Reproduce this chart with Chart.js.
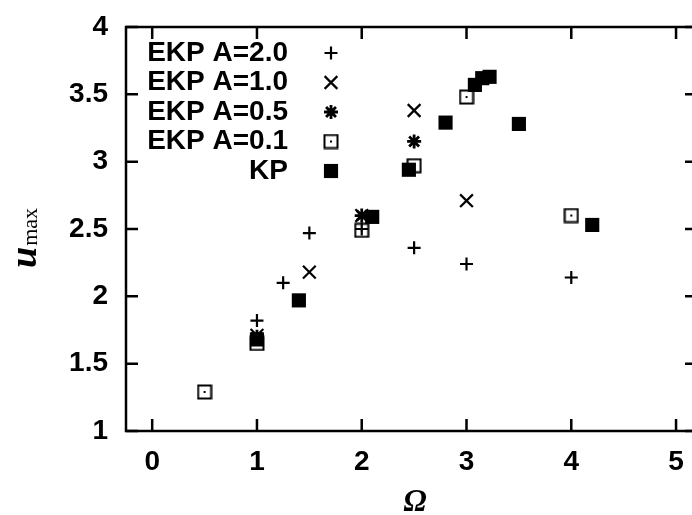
<!DOCTYPE html>
<html>
<head>
<meta charset="utf-8">
<script src="https://cdn.jsdelivr.net/npm/chart.js"></script>
<style>
  html, body { margin: 0; padding: 0; background: #fff; overflow: hidden; }
  #wrap { width: 692px; height: 515px; overflow: hidden; }
</style>
</head>
<body>
<div id="wrap"><canvas id="chart" width="697" height="515"></canvas></div>
<script>
// values (Omega, u_max)
const xA20 = [1, 1.25, 1.5, 2, 2.5, 3, 4];
const yA20 = [1.82, 2.1, 2.47, 2.5, 2.36, 2.24, 2.14];
const xA10 = [1, 1.5, 2, 2.5, 3];
const yA10 = [1.71, 2.18, 2.6, 3.38, 2.71];
const xA05 = [1, 2, 2.5];
const yA05 = [1.7, 2.6, 3.15];
const xA01 = [0.5, 1, 2, 2.5, 3, 4];
const yA01 = [1.29, 1.65, 2.49, 2.97, 3.48, 2.6];
const xKP = [1, 1.4, 2.1, 2.45, 2.8, 3.08, 3.15, 3.22, 3.5, 4.2];
const yKP = [1.68, 1.97, 2.59, 2.94, 3.29, 3.57, 3.62, 3.63, 3.28, 2.53];

const labels = ['EKP A=2.0', 'EKP A=1.0', 'EKP A=0.5', 'EKP A=0.1', 'KP'];
const xTicks = [0, 1, 2, 3, 4, 5];
const yTicks = [1, 1.5, 2, 2.5, 3, 3.5, 4];

function toPoints(xs, ys) {
    return xs.map((x, i) => ({ x: x, y: ys[i] }));
}

// open square with a dot in the middle
const openSquare = document.createElement('canvas');
openSquare.width = 16;
openSquare.height = 16;
(function() {
    const c = openSquare.getContext('2d');
    c.strokeStyle = '#000';
    c.lineWidth = 2;
    c.strokeRect(1.5, 1.5, 13, 13);
    c.fillStyle = '#000';
    c.fillRect(7, 7, 2, 2);
})();

const styles = [
    { pointStyle: 'cross', radius: 6.5, borderWidth: 2.2 },
    { pointStyle: 'crossRot', radius: 9, borderWidth: 2.2 },
    { pointStyle: 'star', radius: 7, borderWidth: 2.8 },
    { pointStyle: openSquare, radius: 8, borderWidth: 0 },
    { pointStyle: 'rect', radius: 10, borderWidth: 0 }
];

const series = [[xA20, yA20], [xA10, yA10], [xA05, yA05], [xA01, yA01], [xKP, yKP]];

const datasets = series.map((s, i) => ({
    label: labels[i],
    data: toPoints(s[0], s[1]),
    pointStyle: styles[i].pointStyle,
    pointRadius: styles[i].radius,
    pointHoverRadius: styles[i].radius,
    pointBorderWidth: styles[i].borderWidth,
    borderColor: '#000',
    backgroundColor: '#000',
    showLine: false,
    order: i
}));

const tickFont = { family: '"Liberation Sans", Arial, sans-serif', size: 28, weight: 'bold' };

// frame with inward ticks on all four sides
const framePlugin = {
    id: 'frame',
    beforeDatasetsDraw(chart) {
        const ctx = chart.ctx;
        const a = chart.chartArea;
        const xs = chart.scales.x, ys = chart.scales.y;
        const len = 12;
        ctx.save();
        ctx.strokeStyle = '#000';
        ctx.lineWidth = 2.5;
        ctx.strokeRect(a.left, a.top, a.right - a.left, a.bottom - a.top);
        ctx.beginPath();
        xs.ticks.forEach(t => {
            const px = xs.getPixelForValue(t.value);
            ctx.moveTo(px, a.bottom);
            ctx.lineTo(px, a.bottom - len);
            ctx.moveTo(px, a.top);
            ctx.lineTo(px, a.top + len);
        });
        ys.ticks.forEach(t => {
            const py = ys.getPixelForValue(t.value);
            ctx.moveTo(a.left, py);
            ctx.lineTo(a.left + len, py);
            ctx.moveTo(a.right, py);
            ctx.lineTo(a.right - len, py);
        });
        ctx.stroke();
        ctx.restore();
    }
};

function drawSymbol(ctx, st, x, y) {
    ctx.save();
    ctx.strokeStyle = '#000';
    ctx.fillStyle = '#000';
    ctx.lineWidth = st.borderWidth;
    const r = st.radius;
    ctx.beginPath();
    if (st.pointStyle === 'cross') {
        ctx.moveTo(x - r, y); ctx.lineTo(x + r, y);
        ctx.moveTo(x, y - r); ctx.lineTo(x, y + r);
        ctx.stroke();
    } else if (st.pointStyle === 'crossRot') {
        const d = r * Math.SQRT1_2;
        ctx.moveTo(x - d, y - d); ctx.lineTo(x + d, y + d);
        ctx.moveTo(x + d, y - d); ctx.lineTo(x - d, y + d);
        ctx.stroke();
    } else if (st.pointStyle === 'star') {
        const d = r * Math.SQRT1_2;
        ctx.moveTo(x - r, y); ctx.lineTo(x + r, y);
        ctx.moveTo(x, y - r); ctx.lineTo(x, y + r);
        ctx.moveTo(x - d, y - d); ctx.lineTo(x + d, y + d);
        ctx.moveTo(x + d, y - d); ctx.lineTo(x - d, y + d);
        ctx.stroke();
    } else if (st.pointStyle === 'rect') {
        const s = r * Math.SQRT1_2;
        ctx.fillRect(x - s, y - s, 2 * s, 2 * s);
    } else {
        ctx.drawImage(st.pointStyle, x - 8, y - 8);
    }
    ctx.restore();
}

// legend: right aligned text, symbol on the right, and the axis titles
const textPlugin = {
    id: 'texts',
    afterDraw(chart) {
        const ctx = chart.ctx;
        ctx.save();
        ctx.fillStyle = '#000';
        ctx.font = 'bold 28px "Liberation Sans", Arial, sans-serif';
        ctx.textAlign = 'right';
        ctx.textBaseline = 'middle';
        labels.forEach((lab, i) => {
            const y = 53 + i * 29.5;
            ctx.fillText(lab, 288, y);
            drawSymbol(ctx, styles[i], 331, y);
        });

        // x title
        ctx.textAlign = 'center';
        ctx.textBaseline = 'alphabetic';
        ctx.font = 'bold italic 31px "Liberation Serif", "DejaVu Serif", serif';
        ctx.fillText('Ω', 415, 511);

        // y title u_max, rotated
        ctx.translate(36, 268);
        ctx.rotate(-Math.PI / 2);
        ctx.textAlign = 'left';
        ctx.font = 'bold italic 38px "Liberation Serif", "DejaVu Serif", serif';
        ctx.fillText('u', 0, 0);
        const w = ctx.measureText('u').width;
        ctx.font = '22px "Liberation Serif", "DejaVu Serif", serif';
        ctx.fillText('max', w + 1, 1);
        ctx.restore();
    }
};

new Chart(document.getElementById('chart'), {
    type: 'scatter',
    data: { datasets: datasets },
    options: {
        responsive: false,
        animation: false,
        layout: { autoPadding: false, padding: { top: 27, right: 0, left: 0, bottom: 0 } },
        plugins: {
            legend: { display: false },
            tooltip: { enabled: false }
        },
        scales: {
            x: {
                type: 'linear',
                min: -0.25,
                max: 5.2,
                afterFit: s => { s.height = 84; s.paddingLeft = 0; s.paddingRight = 0; },
                afterBuildTicks: s => { s.ticks = xTicks.map(v => ({ value: v })); },
                grid: { display: false, drawTicks: false },
                border: { display: false },
                ticks: { font: tickFont, color: '#000', padding: 14, includeBounds: false, callback: v => String(v) }
            },
            y: {
                type: 'linear',
                min: 1,
                max: 4,
                afterFit: s => { s.width = 126; s.paddingTop = 0; s.paddingBottom = 0; },
                afterBuildTicks: s => { s.ticks = yTicks.map(v => ({ value: v })); },
                grid: { display: false, drawTicks: false },
                border: { display: false },
                ticks: { font: tickFont, color: '#000', padding: 18, includeBounds: false, callback: v => String(v) }
            }
        }
    },
    plugins: [framePlugin, textPlugin]
});
</script>
</body>
</html>
